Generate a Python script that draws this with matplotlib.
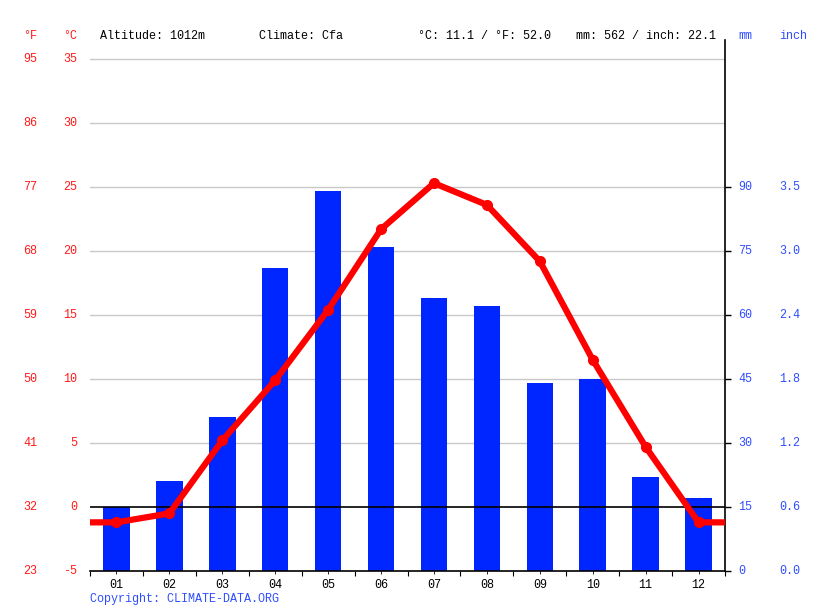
import numpy as np
from matplotlib import pyplot as plt
from matplotlib import transforms

# Dados climáticos
meses = ['01', '02', '03', '04', '05', '06', '07', '08', '09', '10', '11', '12']
temp_c = [-1.2, -0.5, 5.2, 9.9, 15.4, 21.7, 25.3, 23.6, 19.2, 11.5, 4.7, -1.2]
chuva_mm = [15, 21, 36, 71, 89, 76, 64, 62, 44, 45, 22, 17]

ticks_c = [-5, 0, 5, 10, 15, 20, 25, 30, 35]
ticks_f = ['23', '32', '41', '50', '59', '68', '77', '86', '95']
ticks_mm = [0, 15, 30, 45, 60, 75, 90]
ticks_inch = ['0.0', '0.6', '1.2', '1.8', '2.4', '3.0', '3.5']

cabecalho = ['Altitude: 1012m', 'Climate: Cfa', '°C: 11.1 / °F: 52.0', 'mm: 562 / inch: 22.1']

plt.rcParams['font.family'] = ['Liberation Mono', 'DejaVu Sans Mono']
plt.rcParams['font.size'] = 8.5

VERMELHO = '#ff1a1a'
AZUL_TXT = '#2e4dff'
AZUL_BAR = '#0026ff'

W, H = 815, 611
fig = plt.figure(figsize=(W / 100, H / 100), dpi=100)

# Área do gráfico em pixels
x0, x1 = 90, 725
y_top, y_bot = 40, 571
ax = fig.add_axes([x0 / W, (H - y_bot) / H, (x1 - x0) / W, (y_bot - y_top) / H])

# Escala: 5 °C = 64 px, 15 mm = 64 px
t_min = -5
t_max = 35 + (59 - y_top) / 64 * 5
ax.set_ylim(t_min, t_max)
ax.set_xlim(0.5, 12.5)

# Grade horizontal
for t in ticks_c[2:]:
    ax.axhline(t, color='#c8c8c8', linewidth=1, zorder=0)

# Eixo da precipitação
axp = ax.twinx()
axp.set_ylim((t_min + 5) * 3, (t_max + 5) * 3)
axp.set_xlim(0.5, 12.5)
x = np.arange(1, 13)
axp.bar(x, chuva_mm, width=0.5, color=AZUL_BAR, zorder=2)

# Eixo da temperatura (linha por cima das barras)
axl = ax.twinx()
axl.set_ylim(t_min, t_max)
axl.set_xlim(0.5, 12.5)
axl.axhline(0, color='black', linewidth=1.2, zorder=1)
xs = [0.5] + list(x) + [12.5]
ys = [temp_c[0]] + temp_c + [temp_c[-1]]
axl.plot(xs, ys, color='#ff0000', linewidth=4.5, solid_capstyle='butt', zorder=3)
axl.plot(x, temp_c, 'o', color='#ff0000', markersize=7, zorder=4)

for a in (ax, axp, axl):
    for s in a.spines.values():
        s.set_visible(False)
    a.set_yticks([])
    a.set_xticks([])

# Eixo inferior e direito
axl.spines['bottom'].set_visible(True)
axl.spines['right'].set_visible(True)
axl.spines['bottom'].set_linewidth(1.2)
axl.spines['right'].set_linewidth(1.2)
axl.set_xticks(np.arange(0.5, 13.0, 1.0))
axl.set_xticklabels([])
axl.tick_params(axis='x', length=5, width=1, color='black')
axl.set_xticks(x, minor=True)
axl.set_xticklabels(meses, minor=True)
axl.tick_params(axis='x', which='minor', length=0, pad=5, labelcolor='#333333', labelsize=8.5)
axl.set_yticks(ticks_c[:7])
axl.set_yticklabels([])
axl.tick_params(axis='y', right=True, left=False, length=4, width=1, color='black')

# Rótulos dos eixos
tr_l = transforms.blended_transform_factory(fig.transFigure, ax.transData)
tr_r = transforms.blended_transform_factory(fig.transFigure, axp.transData)
for c, f in zip(ticks_c, ticks_f):
    ax.text(37 / W, c, f, transform=tr_l, ha='right', va='center', color=VERMELHO)
    ax.text(77 / W, c, str(c), transform=tr_l, ha='right', va='center', color=VERMELHO)
for mm, inch in zip(ticks_mm, ticks_inch):
    axp.text(738 / W, mm, str(mm), transform=tr_r, ha='left', va='center', color=AZUL_TXT)
    axp.text(779 / W, mm, inch, transform=tr_r, ha='left', va='center', color=AZUL_TXT)

# Cabeçalho
yh = 1 - 36 / H
fig.text(37 / W, yh, '°F', ha='right', va='center', color=VERMELHO)
fig.text(77 / W, yh, '°C', ha='right', va='center', color=VERMELHO)
for px, txt in zip([100, 259, 418, 576], cabecalho):
    fig.text(px / W, yh, txt, ha='left', va='center', color='black')
fig.text(738 / W, yh, 'mm', ha='left', va='center', color=AZUL_TXT)
fig.text(779 / W, yh, 'inch', ha='left', va='center', color=AZUL_TXT)

fig.text(90 / W, 1 - 599 / H, 'Copyright: CLIMATE-DATA.ORG', ha='left', va='center', color=AZUL_TXT)

fig.savefig('out.png', dpi=100)
